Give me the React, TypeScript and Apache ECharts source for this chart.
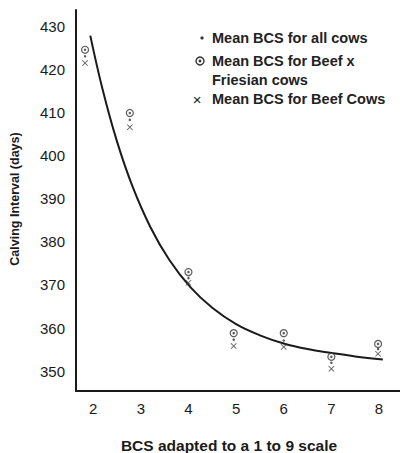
import { useEffect, useRef } from "react";
import * as echarts from "echarts";

const xTicks = [2, 3, 4, 5, 6, 7, 8];
const yTicks = [350, 360, 370, 380, 390, 400, 410, 420, 430];

// plotted marker positions (BCS)
const markerX = [1.83, 2.77, 4.0, 4.95, 6.0, 7.0, 7.98];
const beefFriesian = [424.7, 410.0, 373.0, 358.8, 358.8, 353.3, 356.3];
const allCows = [423.2, 408.4, 371.6, 357.3, 357.1, 351.9, 355.1];
const beefCows = [421.6, 406.7, 370.5, 355.8, 355.6, 350.5, 354.0];

// fitted curve
const curveX = [1.94, 2.2, 2.5, 2.83, 3.2, 3.6, 4.04, 4.5, 5.0, 5.5, 6.0, 6.5, 7.0, 7.5, 8.08];
const curveY = [428, 415.4, 403.4, 392.8, 383.5, 375.8, 369.5, 364.7, 360.9, 358.3, 356.4, 355.1, 354.2, 353.4, 352.7];

const legendLines = [
  "Mean BCS for all cows",
  "Mean BCS for Beef x",
  "Friesian cows",
  "Mean BCS for Beef Cows",
];

const crossPath =
  "path://M0,1 L1,0 L5,4 L9,0 L10,1 L6,5 L10,9 L9,10 L5,6 L1,10 L0,9 L4,5 Z";

export default function App() {
  const ref = useRef<HTMLDivElement>(null);
  useEffect(() => {
    document.body.style.margin = "0";
    const chart = echarts.init(ref.current!, null, { renderer: "svg" });
    const zip = (xs: number[], ys: number[]) => xs.map((x, i) => [x, ys[i]]);
    const ink = "#1a1a1a";
    const font = "Liberation Sans, Arial, sans-serif";
    chart.setOption({
      animation: false,
      backgroundColor: "#fff",
      grid: { left: 76, right: 0, top: 10, bottom: 62 },
      xAxis: {
        type: "value",
        min: 1.64,
        max: 8.44,
        axisLine: { show: true, lineStyle: { color: ink, width: 2 } },
        axisTick: { show: false },
        splitLine: { show: false },
        axisLabel: {
          customValues: xTicks,
          margin: 10,
          color: ink,
          fontSize: 15,
          fontFamily: font,
        },
      },
      yAxis: {
        type: "value",
        min: 345.35,
        max: 433.95,
        axisLine: { show: true, lineStyle: { color: ink, width: 2 } },
        axisTick: { show: false },
        splitLine: { show: false },
        axisLabel: {
          customValues: yTicks,
          margin: 11,
          color: ink,
          fontSize: 15,
          fontFamily: font,
        },
      },
      series: [
        {
          type: "line",
          data: zip(curveX, curveY),
          smooth: 0.4,
          showSymbol: false,
          lineStyle: { color: ink, width: 2 },
          z: 1,
        },
        {
          type: "scatter",
          data: zip(markerX, beefFriesian),
          symbol: "circle",
          symbolSize: 7,
          itemStyle: { color: "#fff", borderColor: "#333", borderWidth: 1.2 },
          z: 3,
        },
        {
          type: "scatter",
          data: zip(markerX, beefFriesian),
          symbol: "circle",
          symbolSize: 2.5,
          itemStyle: { color: "#333" },
          z: 4,
        },
        {
          type: "scatter",
          data: zip(markerX, allCows),
          symbol: "circle",
          symbolSize: 2.5,
          itemStyle: { color: "#333" },
          z: 3,
        },
        {
          type: "scatter",
          data: zip(markerX, beefCows),
          symbol: crossPath,
          symbolSize: 6,
          itemStyle: { color: "#333" },
          z: 3,
        },
      ],
      graphic: [
        {
          type: "text",
          x: 15,
          y: 199,
          rotation: Math.PI / 2,
          style: {
            text: "Calving Interval (days)",
            fontSize: 12.5,
            fontWeight: "bold",
            fontFamily: font,
            fill: ink,
            align: "center",
            verticalAlign: "middle",
          },
        },
        {
          type: "text",
          x: 229,
          y: 445,
          style: {
            text: "BCS adapted to a 1 to 9 scale",
            fontSize: 15.5,
            fontWeight: "bold",
            fontFamily: font,
            fill: ink,
            align: "center",
            verticalAlign: "middle",
          },
        },
        { type: "circle", shape: { cx: 202, cy: 38, r: 1.6 }, style: { fill: "#333" } },
        {
          type: "circle",
          shape: { cx: 200, cy: 61, r: 4 },
          style: { fill: "#fff", stroke: "#333", lineWidth: 1.4 },
        },
        { type: "circle", shape: { cx: 200, cy: 61, r: 1.4 }, style: { fill: "#333" } },
        {
          type: "text",
          x: 197,
          y: 99,
          style: {
            text: "×",
            fontSize: 15,
            fontFamily: font,
            fill: ink,
            align: "center",
            verticalAlign: "middle",
          },
        },
        ...legendLines.map((t, i) => ({
          type: "text",
          x: 212,
          y: [38, 61, 80, 99][i],
          style: {
            text: t,
            fontSize: 14.5,
            fontWeight: "bold",
            fontFamily: font,
            fill: "#222",
            align: "left",
            verticalAlign: "middle",
          },
        })),
      ],
    });
    return () => chart.dispose();
  }, []);
  return <div ref={ref} style={{ width: 400, height: 453 }} />;
}
